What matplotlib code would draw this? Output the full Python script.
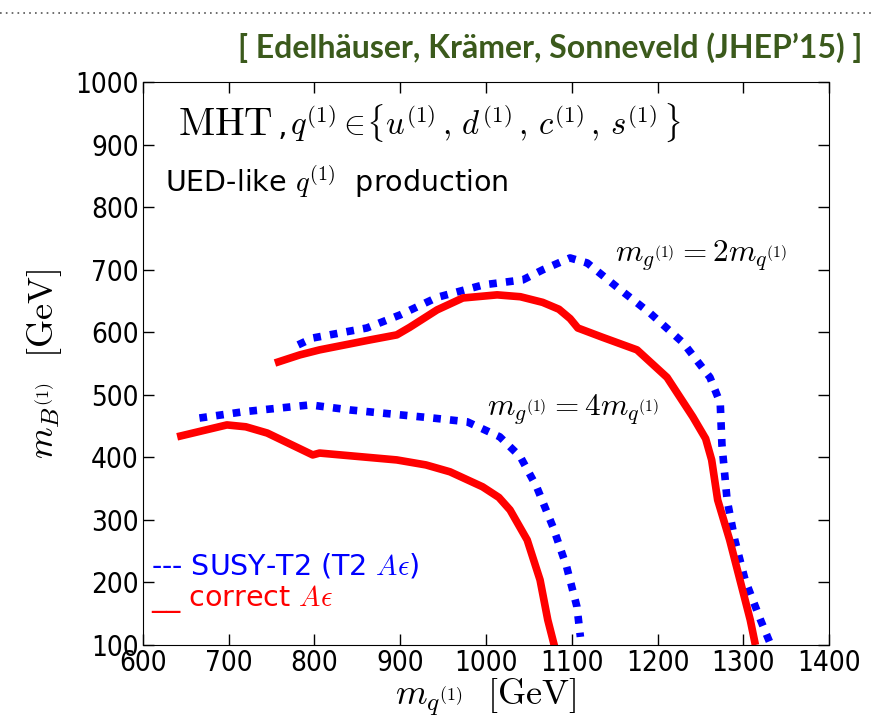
"""MHT limits: UED-like q(1) production, SUSY-T2 vs correct acceptance"""
import matplotlib
matplotlib.use("Agg")
import matplotlib.pyplot as plt
from matplotlib.lines import Line2D

plt.rcParams["mathtext.fontset"] = "cm"
plt.rcParams["font.family"] = ["DejaVu Sans"]

# m_g = 2 m_q contours
red_2_x = [754, 783, 806, 865, 896, 911, 943, 973, 1013, 1040, 1066, 1085, 1098, 1107, 1136, 1176, 1211,
           1241, 1256, 1263, 1270, 1284, 1296, 1308, 1314]
red_2_y = [551, 564, 572, 588, 596, 608, 636, 655, 660, 657, 648, 637, 622, 607, 592, 572, 528,
           465, 430, 396, 332, 268, 204, 140, 100]
blue_2_x = [781, 798, 861, 900, 943, 997, 1043, 1066, 1098, 1118, 1153, 1191, 1230, 1261, 1273,
            1275, 1281, 1290, 1302, 1320, 1332]
blue_2_y = [580, 591, 607, 628, 656, 676, 684, 700, 719, 711, 672, 631, 583, 528, 487,
            420, 332, 268, 204, 140, 100]

# m_g = 4 m_q contours
red_4_x = [640, 698, 720, 745, 798, 806, 896, 930, 958, 996, 1015, 1028, 1048, 1063, 1072, 1080]
red_4_y = [433, 452, 449, 439, 404, 407, 396, 388, 377, 353, 336, 316, 268, 204, 140, 97]
blue_4_x = [666, 717, 795, 841, 938, 978, 1016, 1040, 1059, 1078, 1094, 1106, 1110]
blue_4_y = [463, 473, 484, 476, 463, 457, 433, 401, 353, 289, 225, 161, 113]

xticks = [600, 700, 800, 900, 1000, 1100, 1200, 1300, 1400]
yticks = [100, 200, 300, 400, 500, 600, 700, 800, 900, 1000]

fig = plt.figure(figsize=(8.71, 7.28), dpi=100)
ax = fig.add_axes([0.164, 0.114, 0.788, 0.773])

red_kw = dict(color="red", linewidth=5.5, solid_capstyle="butt", solid_joinstyle="round")
blue_kw = dict(color="blue", linewidth=5.5, dashes=(1.0, 1.2), dash_capstyle="butt")
ax.plot(blue_2_x, blue_2_y, **blue_kw)
ax.plot(blue_4_x, blue_4_y, **blue_kw)
ax.plot(red_2_x, red_2_y, **red_kw)
ax.plot(red_4_x, red_4_y, **red_kw)

ax.set_xlim(600, 1400)
ax.set_ylim(100, 1000)
ax.set_xticks(xticks)
ax.set_yticks(yticks)
ax.tick_params(direction="in", length=8, width=1, top=True, right=True, labelsize=20, pad=3)
for lab in ax.get_xticklabels() + ax.get_yticklabels():
    lab.set_fontstretch("condensed")

ax.set_xlabel(r"$m_{q^{(1)}}\ \ [\mathrm{GeV}]$", fontsize=26, labelpad=0)
ax.set_ylabel(r"$m_{B^{(1)}}\ \ [\mathrm{GeV}]$", fontsize=26, labelpad=8)

ax.text(0.051, 0.906, r"$\mathrm{MHT}$", transform=ax.transAxes, fontsize=28.5,
        ha="left", va="baseline")
ax.text(0.196, 0.906, r",", transform=ax.transAxes, fontsize=22, ha="left", va="baseline")
ax.text(0.214, 0.906, r"$q^{(1)}\in\!\{u^{(1)}\,,\,d^{(1)}\,,\,c^{(1)}\,,\,s^{(1)}\,\}$",
        transform=ax.transAxes, fontsize=23.5, ha="left", va="baseline")
ax.text(0.032, 0.805, r"UED-like $q^{(1)}$  production", transform=ax.transAxes,
        fontsize=20.5, ha="left", va="baseline")

ax.text(1150, 723, r"$m_{g^{(1)}}=2m_{q^{(1)}}$", fontsize=22.5, ha="left", va="center")
ax.text(1001, 476, r"$m_{g^{(1)}}=4m_{q^{(1)}}$", fontsize=22.5, ha="left", va="center")

ax.text(610, 227, r"--- SUSY-T2 (T2 $A\epsilon$)", color="blue", fontsize=20.5, ha="left", va="center")
ax.text(610, 173, r"__ correct $A\epsilon$", color="red", fontsize=20.5, ha="left", va="center")

# slide header
fig.add_artist(Line2D([0.0, 1.0], [0.982, 0.982], transform=fig.transFigure,
                      color="#555555", linestyle=(0, (1, 2.5)), linewidth=1.2))
fig.text(0.99, 0.935, "[ Edelhäuser, Krämer, Sonneveld (JHEP’15) ]", color="#3b5a1c",
         fontsize=23, fontweight="bold", family=["Lato", "DejaVu Sans"], ha="right", va="center")

fig.savefig("out.png", dpi=100)
